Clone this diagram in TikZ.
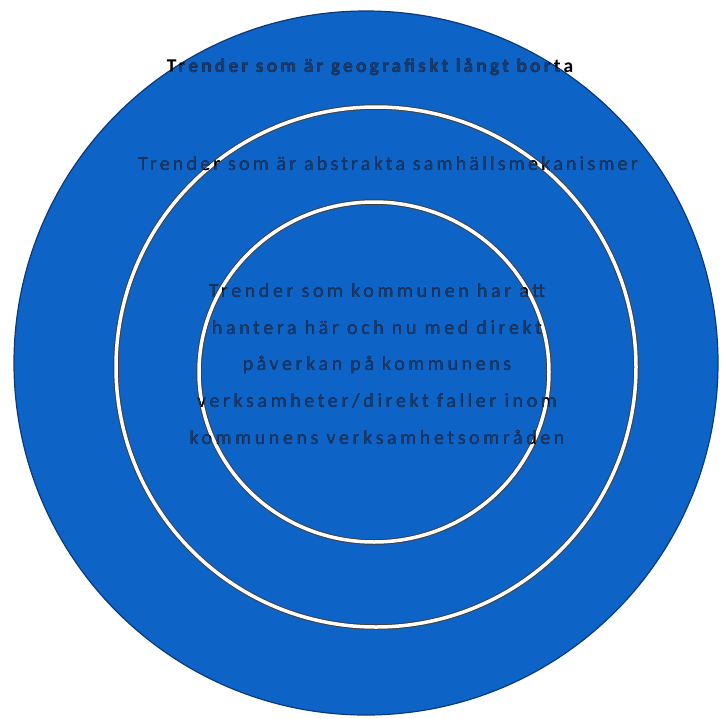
\documentclass[tikz,border=0pt]{standalone}
\usepackage{fontspec}
\setmainfont{Carlito}
\definecolor{ringblue}{RGB}{14,100,198}
\definecolor{edgeblue}{RGB}{10,58,125}
\definecolor{navytext}{RGB}{30,58,105}
\newcommand\putlabels[2]{%
  \node[toplab,text=#1] (outerlab#2) at (370,67) {Trender som är geografiskt långt borta};
  \node[midlab,text=#1] (midlab#2) at (388,164) {Trender som är abstrakta samhällsmekanismer};
  \node[innerlab,text=#1] (innerlab#2) at (377,364) {Trender som kommunen har att\\hantera här och nu med direkt\\påverkan på kommunens\\verksamheter/direkt faller inom\\kommunens verksamhetsområden};
}
\begin{document}
\begin{tikzpicture}[x=1pt,y=-1pt,
  toplab/.style={inner sep=0pt,font=\fontsize{19.5}{22}\selectfont\bfseries\addfontfeature{LetterSpace=16}},
  midlab/.style={inner sep=0pt,font=\fontsize{20}{22}\selectfont\addfontfeature{LetterSpace=16}},
  innerlab/.style={inner sep=0pt,align=center,font=\fontsize{20}{36.8}\selectfont\addfontfeature{LetterSpace=18}},
  ringedge/.style={draw=black!75,line width=5.5pt},
  ringwhite/.style={draw=white,line width=3.5pt}]
\useasboundingbox (0,0) rectangle (723,718);
% outer disc
\fill[ringblue,draw=edgeblue,line width=1.2pt] (366,363) circle[radius=352pt];
% middle ring
\draw[ringedge] (376,367) circle[radius=260pt];
\draw[ringwhite] (376,367) circle[radius=260pt];
% inner ring
\draw[ringedge] (374,372) ellipse[x radius=175pt,y radius=170pt];
\draw[ringwhite] (374,372) ellipse[x radius=175pt,y radius=170pt];
% texts: black on white, navy on blue
\putlabels{black}{a}
\begin{scope}
  \clip (366,363) circle[radius=351pt];
  \putlabels{navytext}{b}
\end{scope}
\begin{scope}[even odd rule]
  \clip (376,367) circle[radius=262pt] (376,367) circle[radius=258pt];
  \putlabels{black}{c}
\end{scope}
\begin{scope}[even odd rule]
  \clip (374,372) ellipse[x radius=177pt,y radius=172pt] (374,372) ellipse[x radius=173pt,y radius=168pt];
  \putlabels{black}{d}
\end{scope}
\end{tikzpicture}
\end{document}
